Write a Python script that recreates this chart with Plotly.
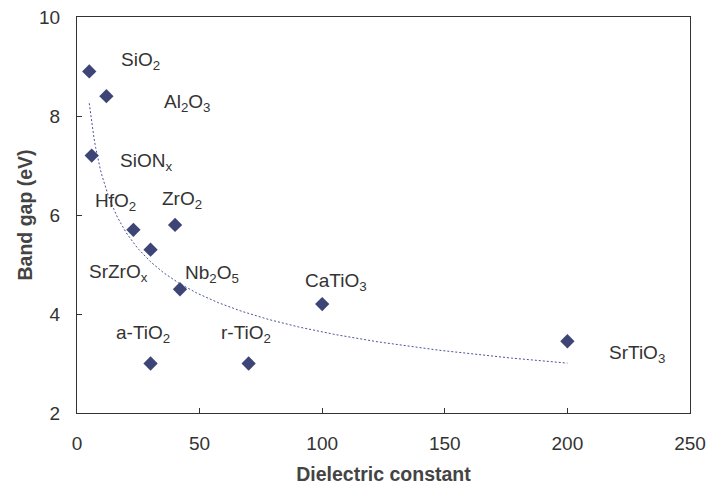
import numpy as np
import plotly.graph_objects as go

# Data
materials = ["SiO<sub>2</sub>", "Al<sub>2</sub>O<sub>3</sub>", "SiON<sub>x</sub>", "HfO<sub>2</sub>",
             "ZrO<sub>2</sub>", "SrZrO<sub>x</sub>", "Nb<sub>2</sub>O<sub>5</sub>", "CaTiO<sub>3</sub>",
             "a-TiO<sub>2</sub>", "r-TiO<sub>2</sub>", "SrTiO<sub>3</sub>"]
dielectric = [5, 12, 6, 23, 40, 30, 42, 100, 30, 70, 200]
band_gap = [8.9, 8.4, 7.2, 5.7, 5.8, 5.3, 4.5, 4.2, 3.0, 3.0, 3.45]

# Label offsets in pixels (layout only)
label_dx = [51, 81, 54, -18, 7, -32, 32, 14, -8, -3, 70]
label_dy = [10, -7, -6, 28, 25, -23, 15, 22, 30, 30, -13]

# Power-law trendline fitted to the data (like Excel's power trendline)
lx = np.log(np.array(dielectric, dtype=float))
ly = np.log(np.array(band_gap, dtype=float))
b, lna = np.polyfit(lx, ly, 1)
xt = np.linspace(min(dielectric), max(dielectric), 300)
yt = np.exp(lna) * xt ** b

FONT = "Liberation Sans, Arial, sans-serif"

fig = go.Figure()
fig.add_trace(go.Scatter(x=xt, y=yt, mode="lines",
                         line=dict(color="#4b529a", width=1, dash="2px,2px"),
                         hoverinfo="skip", showlegend=False))
fig.add_trace(go.Scatter(x=dielectric, y=band_gap, mode="markers",
                         marker=dict(symbol="diamond", size=11, color="#3d4577"),
                         showlegend=False))

for name, x, y, dx, dy in zip(materials, dielectric, band_gap, label_dx, label_dy):
    fig.add_annotation(x=x, y=y, text=name, showarrow=False, xshift=dx, yshift=dy,
                       font=dict(family=FONT, size=19, color="#333333"))

axis_common = dict(showline=True, linecolor="#333333", linewidth=1.2, mirror=True,
                   ticks="inside", ticklen=5, tickcolor="#333333", showgrid=False, zeroline=False,
                   automargin=False,
                   tickfont=dict(family=FONT, size=19, color="#333333"))

fig.update_xaxes(range=[0, 250], tickvals=[0, 50, 100, 150, 200, 250], ticklabelstandoff=13,
                 title=dict(text="<b>Dielectric constant</b>", standoff=14,
                            font=dict(family=FONT, size=19.5, color="#444444")),
                 **axis_common)
fig.update_yaxes(range=[2, 10], tickvals=[2, 4, 6, 8, 10], ticklabelstandoff=12,
                 title=dict(text="<b>Band gap (eV)</b>", standoff=1,
                            font=dict(family=FONT, size=19.5, color="#444444")),
                 **axis_common)

fig.update_layout(width=706, height=486, margin=dict(l=77, r=16, t=17, b=73),
                  plot_bgcolor="white", paper_bgcolor="white")

fig.write_html("out.html")
